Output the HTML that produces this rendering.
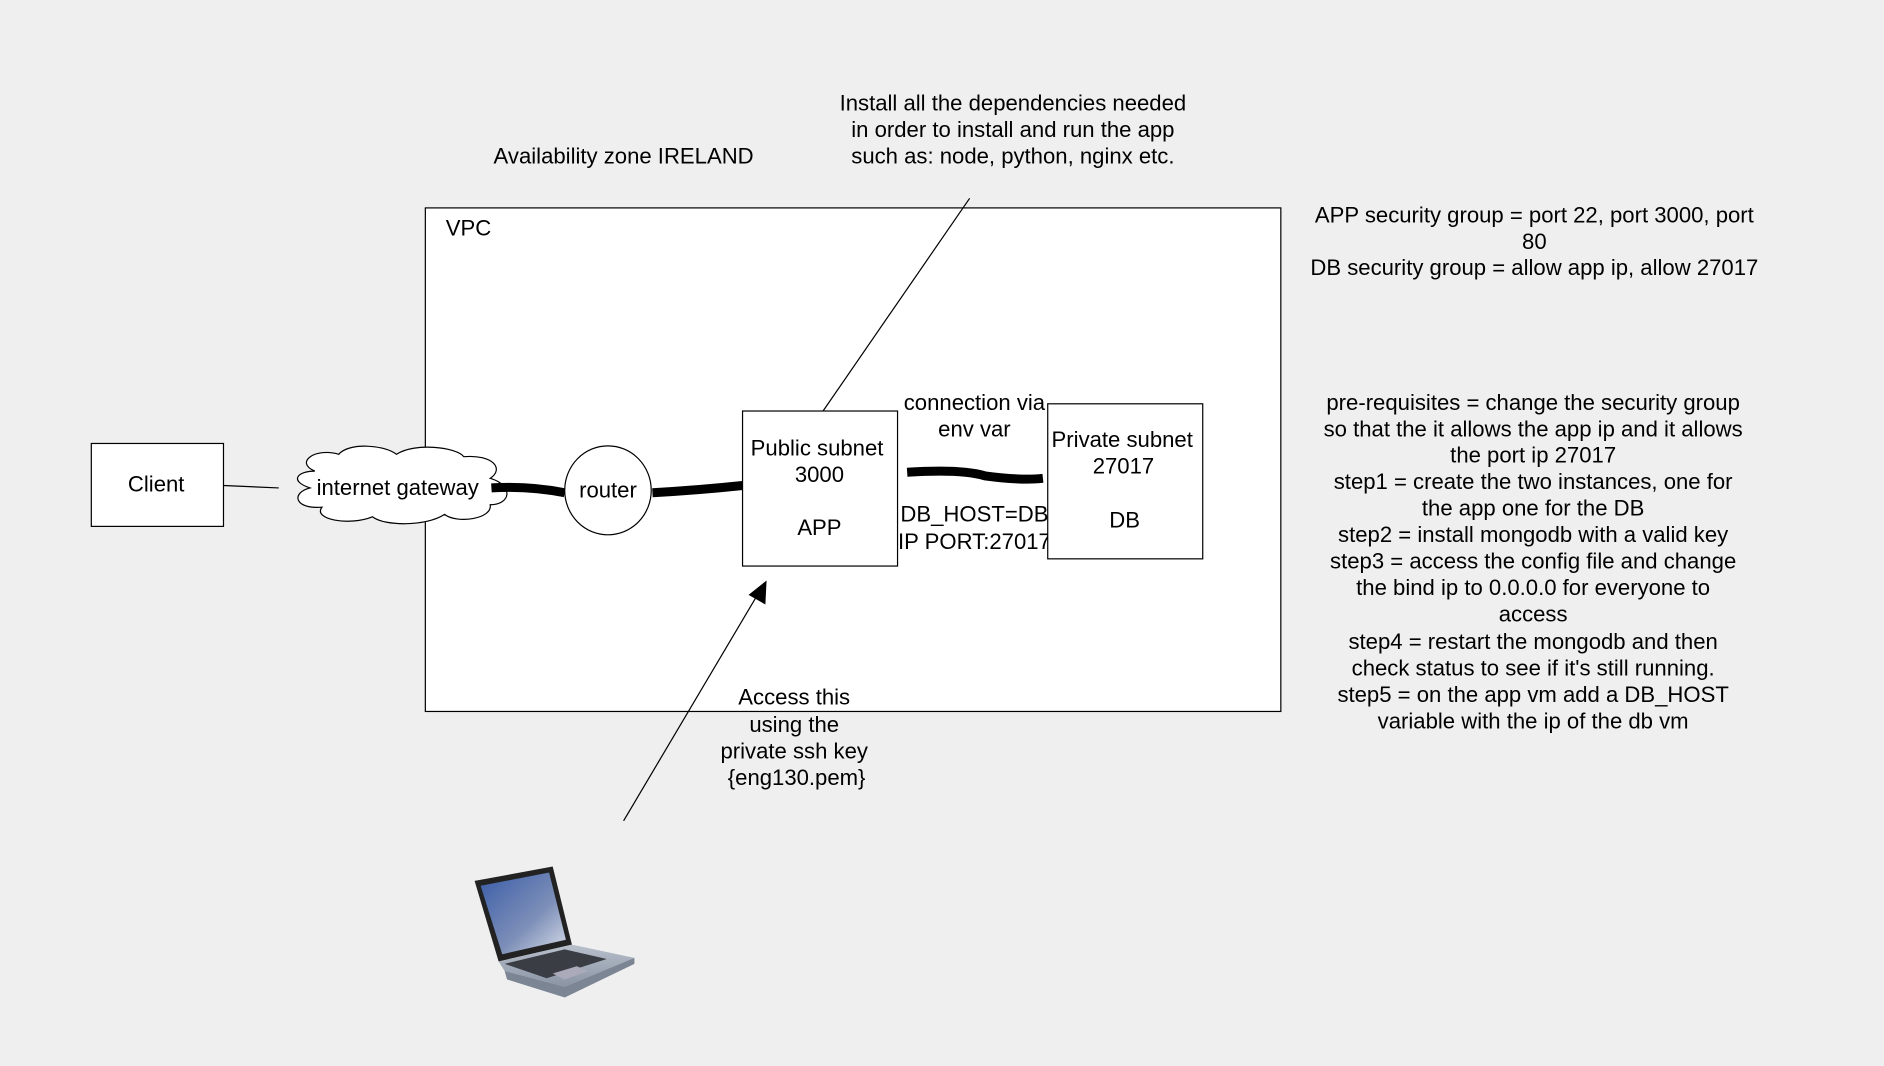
<!DOCTYPE html>
<html><head><meta charset="utf-8"><style>
html,body{margin:0;padding:0;background:#efefef;width:1884px;height:1066px;overflow:hidden}
svg{display:block}
text{font-family:"Liberation Sans",sans-serif;font-size:18.4px;fill:#000}
</style></head><body>
<svg width="1884" height="1066" viewBox="0 0 1568 887" preserveAspectRatio="none">
<defs>
<linearGradient id="scr" x1="0" y1="0" x2="1" y2="1"><stop offset="0" stop-color="#3a5da8"/><stop offset="0.6" stop-color="#7d8fb8"/><stop offset="1" stop-color="#d8dde8"/></linearGradient>
<linearGradient id="base" x1="0" y1="0" x2="0" y2="1"><stop offset="0" stop-color="#b8c0cc"/><stop offset="1" stop-color="#8a94a3"/></linearGradient>
</defs>
<rect width="1568" height="887" fill="#efefef"/>
<rect x="354" y="173" width="712" height="419" fill="#fff" stroke="#000" stroke-width="1"/>
<text x="371" y="196">VPC</text>
<text x="519" y="136" text-anchor="middle">Availability zone IRELAND</text>
<g text-anchor="middle">
<text x="843" y="92">Install all the dependencies needed</text>
<text x="843" y="114">in order to install and run the app</text>
<text x="843" y="136">such as: node, python, nginx etc.</text>
</g>
<line x1="807" y1="165" x2="685" y2="342" stroke="#000" stroke-width="1"/>
<rect x="76" y="369" width="110" height="69" fill="#fff" stroke="#000"/>
<text x="130" y="409" text-anchor="middle">Client</text>
<line x1="186" y1="404" x2="232" y2="406" stroke="#000"/>
<path d="M262,392 C245,385 262,372 282,378 C290,368 320,370 330,378 C345,368 380,372 386,380 C410,378 420,390 408,398 C428,404 425,420 408,420 C410,432 380,436 370,428 C355,438 320,438 310,430 C290,438 260,432 268,422 C245,424 242,410 258,406 C240,400 248,392 262,392 Z" fill="#fff" stroke="#000"/>
<text x="331" y="412" text-anchor="middle">internet gateway</text>
<path d="M409,406 Q440,404 470,410" stroke="#000" stroke-width="7.5" fill="none"/>
<ellipse cx="506" cy="408" rx="36" ry="37" fill="#fff" stroke="#000"/>
<text x="506" y="414" text-anchor="middle">router</text>
<path d="M543,410 Q580,408 618,404" stroke="#000" stroke-width="7.5" fill="none"/>
<rect x="618" y="342" width="129" height="129" fill="#fff" stroke="#000"/>
<g text-anchor="middle">
<text x="680" y="379">Public subnet</text>
<text x="682" y="401">3000</text>
<text x="682" y="445">APP</text>
</g>
<path d="M755,393 Q800,390 820,396 Q850,400 868,398" stroke="#000" stroke-width="7.5" fill="none"/>
<g text-anchor="middle">
<text x="811" y="341">connection via</text>
<text x="811" y="363">env var</text>
<text x="811" y="434">DB_HOST=DB</text>
<text x="811" y="457">IP PORT:27017</text>
</g>
<rect x="872" y="336" width="129" height="129" fill="#fff" stroke="#000"/>
<g text-anchor="middle">
<text x="934" y="372">Private subnet</text>
<text x="935" y="394">27017</text>
<text x="936" y="439">DB</text>
</g>
<line x1="519" y1="683" x2="631" y2="494" stroke="#000" stroke-width="1"/>
<polygon points="638,483 637,503 623,495" fill="#000"/>
<g text-anchor="middle">
<text x="661" y="586">Access this</text>
<text x="661" y="609">using the</text>
<text x="661" y="631">private ssh key</text>
<text x="663" y="653">{eng130.pem}</text>
</g>
<g text-anchor="middle">
<text x="1277" y="185">APP security group = port 22, port 3000, port</text>
<text x="1277" y="207">80</text>
<text x="1277" y="229">DB security group = allow app ip, allow 27017</text>
<text x="1276" y="341">pre-requisites = change the security group</text>
<text x="1276" y="363">so that the it allows the app ip and it allows</text>
<text x="1276" y="385">the port ip 27017</text>
<text x="1276" y="407">step1 =  create the two instances, one for</text>
<text x="1276" y="429">the app one for the DB</text>
<text x="1276" y="451">step2 = install mongodb with a valid key</text>
<text x="1276" y="473">step3 = access the config file and change</text>
<text x="1276" y="495">the bind ip to 0.0.0.0 for everyone to</text>
<text x="1276" y="517">access</text>
<text x="1276" y="540">step4 = restart the mongodb and then</text>
<text x="1276" y="562">check status to see if it's still running.</text>
<text x="1276" y="584">step5 = on the app vm add a DB_HOST</text>
<text x="1276" y="606">variable with the ip of the db vm</text>
</g>
<g>
<polygon points="395,733 460,721 476,786 415,800" fill="#222"/>
<polygon points="400,737 457,726 471,782 418,794" fill="url(#scr)"/>
<polygon points="415,800 476,786 528,797 470,821 420,808" fill="url(#base)"/>
<polygon points="420,802 470,790 505,798 455,814" fill="#3a3d44"/>
<polygon points="460,810 480,804 490,808 470,815" fill="#aab"/>
<polygon points="420,808 470,821 528,797 528,802 470,830 422,815" fill="#7c8594"/>
</g>
</svg>
</body></html>
